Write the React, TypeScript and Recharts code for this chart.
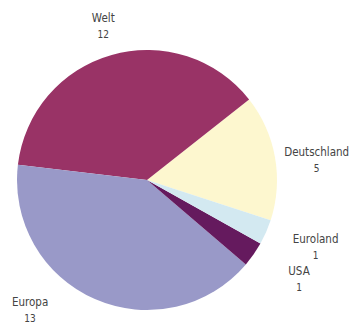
import { PieChart, Pie, Cell } from 'recharts';

const names = ['Deutschland', 'Welt', 'Europa', 'USA', 'Euroland'];
const values = [5, 12, 13, 1, 1];
const colors = ['#fdf7cf', '#993366', '#9999c8', '#651a5e', '#d3e9f1'];

// label placement: shift from slice mid angle (deg) and distance from centre
const labelShift = [-3, 0, -18.6, 2, 2.3];
const labelRadius = [171, 161, 174, 181, 181];

const data = names.map((name, i) => ({ name, value: values[i] }));
const RAD = Math.PI / 180;
const font = '"DejaVu Sans Condensed", "DejaVu Sans", sans-serif';

function renderLabel(props: any) {
  const { cx, cy, midAngle, index, name, value } = props;
  const a = (midAngle + labelShift[index]) * RAD;
  const r = labelRadius[index];
  const x = cx + r * Math.cos(a);
  const y = cy - r * Math.sin(a);
  return (
    <text
      x={x}
      y={y}
      textAnchor="middle"
      fill="#444"
      style={{ fontFamily: font, fontStretch: 'condensed' }}
    >
      <tspan x={x} dy={-3} fontSize={11.5}>{name}</tspan>
      <tspan x={x} dy={16} fontSize={10}>{value}</tspan>
    </text>
  );
}

export default function App() {
  return (
    <div style={{ position: 'absolute', left: 0, top: 0, width: 351, height: 323, background: '#fff' }}>
      <PieChart width={351} height={323} margin={{ top: 0, right: 0, bottom: 0, left: 0 }}>
        <Pie
          data={data}
          dataKey="value"
          nameKey="name"
          cx={147}
          cy={180}
          outerRadius={130}
          startAngle={-18}
          endAngle={342}
          stroke="none"
          labelLine={false}
          label={renderLabel}
          isAnimationActive={false}
        >
          {data.map((d, i) => (
            <Cell key={d.name} fill={colors[i]} />
          ))}
        </Pie>
      </PieChart>
    </div>
  );
}
